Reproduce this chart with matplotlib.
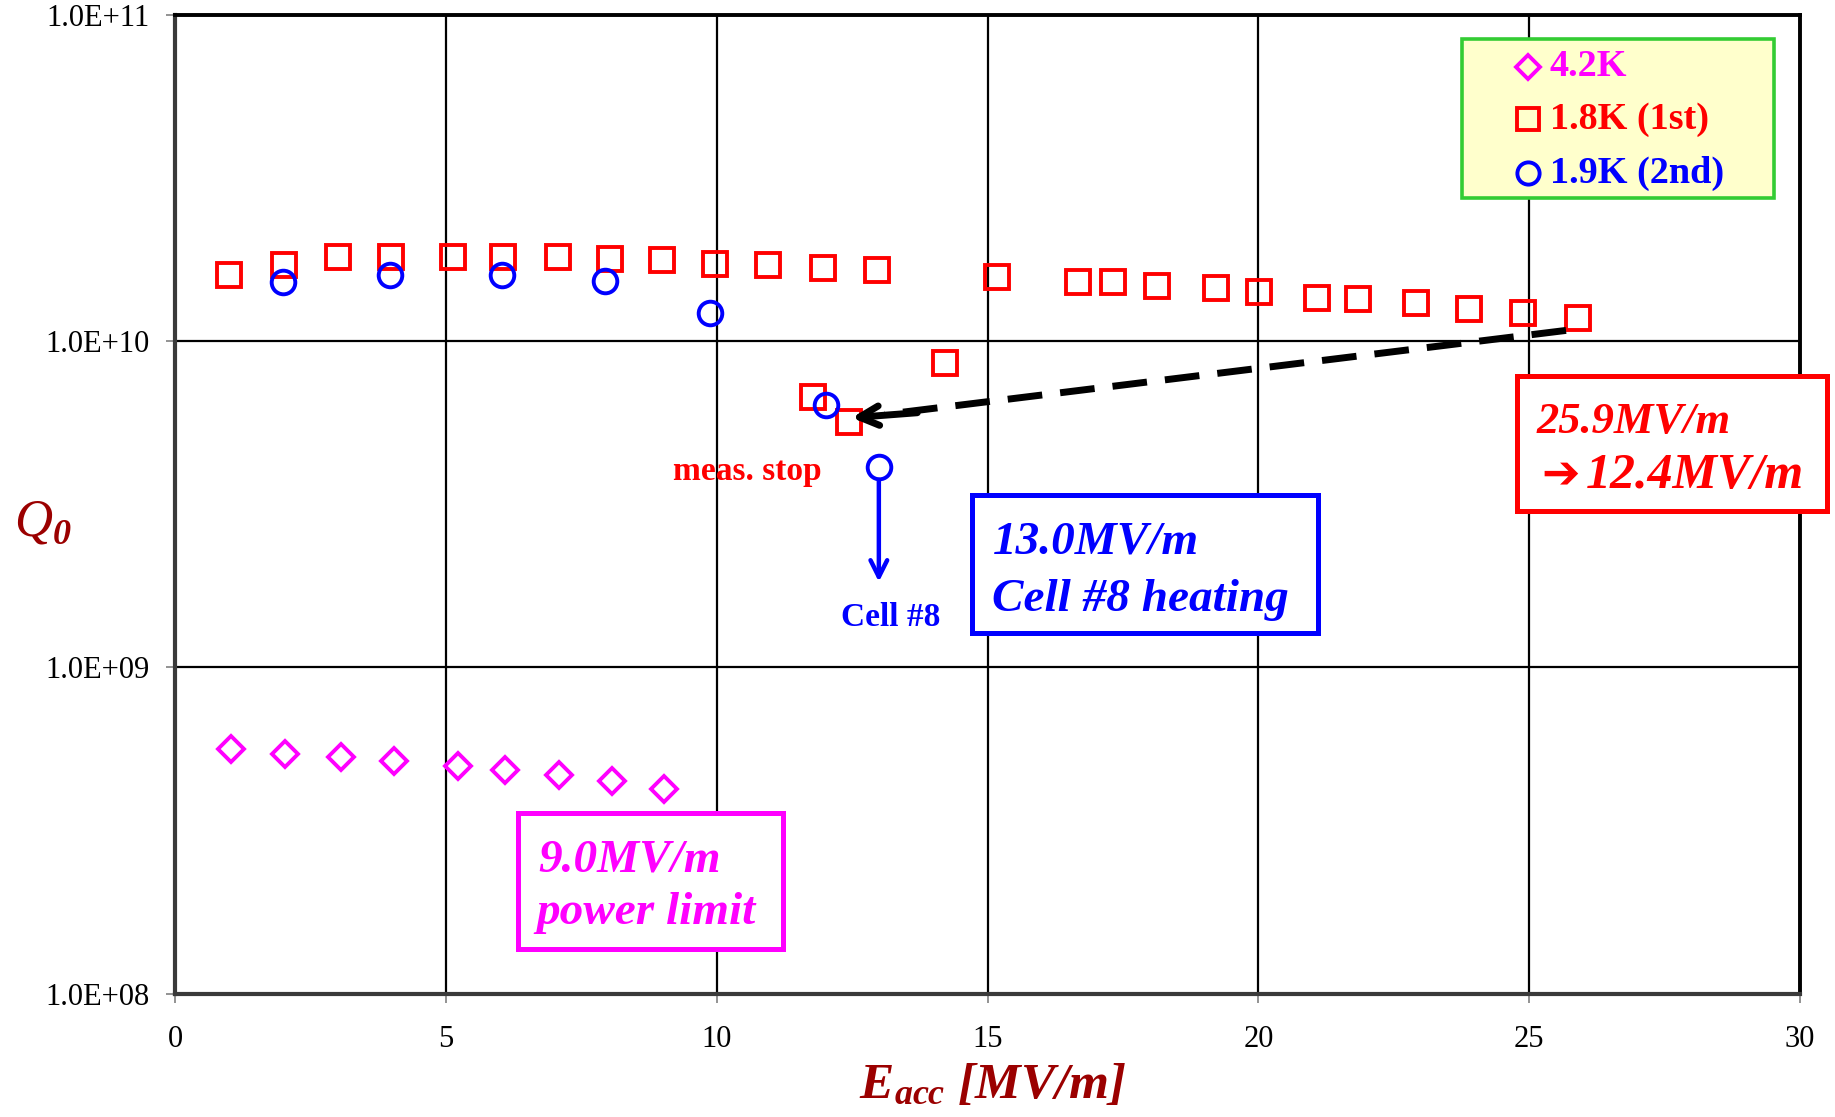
import matplotlib

matplotlib.use('Agg')
import matplotlib.pyplot as plt
from matplotlib.patches import Rectangle
from matplotlib.ticker import FuncFormatter, FixedLocator

plt.rcParams['font.family'] = ['Liberation Serif', 'DejaVu Serif']
plt.rcParams['mathtext.fontset'] = 'custom'
plt.rcParams['mathtext.rm'] = 'Liberation Serif'
plt.rcParams['mathtext.it'] = 'Liberation Serif:italic'
plt.rcParams['mathtext.bf'] = 'Liberation Serif:bold'
plt.rcParams['mathtext.bfit'] = 'Liberation Serif:italic:bold'

# 4.2K run
e_42k = [1.02, 2.03, 3.05, 4.04, 5.21, 6.09, 7.09, 8.06, 9.03]
q_42k = [5.62e8, 5.44e8, 5.31e8, 5.18e8, 4.97e8, 4.84e8, 4.69e8, 4.50e8, 4.25e8]

# 1.8K first run
e_18k = [0.99, 2.01, 3.00, 3.98, 5.12, 6.05, 7.07, 8.02, 8.99, 9.96, 10.94, 11.95, 12.95,
         14.22, 15.17, 16.66, 17.31, 18.13, 19.21, 20.01, 21.09, 21.83, 22.91, 23.88,
         24.88, 25.91, 11.78, 12.43]
q_18k = [1.60e10, 1.72e10, 1.81e10, 1.82e10, 1.82e10, 1.81e10, 1.81e10, 1.79e10, 1.78e10,
         1.73e10, 1.72e10, 1.68e10, 1.65e10, 8.6e9, 1.57e10, 1.52e10, 1.52e10, 1.48e10,
         1.46e10, 1.42e10, 1.36e10, 1.35e10, 1.31e10, 1.26e10, 1.22e10, 1.18e10,
         6.76e9, 5.64e9]

# 1.9K second run
e_19k = [1.99, 3.96, 6.03, 7.93, 9.88, 12.02, 12.99]
q_19k = [1.52e10, 1.60e10, 1.60e10, 1.53e10, 1.22e10, 6.38e9, 4.12e9]

x_ticks = [0, 5, 10, 15, 20, 25, 30]
y_ticks = [1e8, 1e9, 1e10, 1e11]

MAGENTA = '#FF00FF'
RED = '#FF0000'
BLUE = '#0000FF'
DARKRED = '#9B0000'

fig = plt.figure(figsize=(18.35, 11.17), dpi=100)
ax = fig.add_axes([0.0956, 0.1105, 0.8853, 0.8759])

ax.set_yscale('log')
ax.set_xlim(0, 30)
ax.set_ylim(1e8, 1e11)
ax.xaxis.set_major_locator(FixedLocator(x_ticks))
ax.yaxis.set_major_locator(FixedLocator(y_ticks))
ax.yaxis.set_minor_locator(FixedLocator([]))
ax.yaxis.set_major_formatter(FuncFormatter(lambda v, p: '{:.1E}'.format(v)))
ax.tick_params(axis='both', length=6.5, width=1.2, color='gray', labelsize=22)
ax.tick_params(axis='y', pad=12)
ax.tick_params(axis='x', pad=16)
ax.grid(True, color='black', linewidth=1.6, zorder=0)
ax.set_axisbelow(True)
for side in ['top', 'right']:
    ax.spines[side].set_linewidth(2.8)
    ax.spines[side].set_color('black')
for side in ['left', 'bottom']:
    ax.spines[side].set_linewidth(3.0)
    ax.spines[side].set_color('#3a3a3a')

mk = dict(linestyle='none', markerfacecolor='none', markeredgewidth=2.8)
ax.plot(e_42k, q_42k, marker='D', markersize=13.5, color=MAGENTA, zorder=3, **mk)
ax.plot(e_18k, q_18k, marker='s', markersize=17, color=RED, zorder=3, **mk)
ax.plot(e_19k, q_19k, marker='o', markersize=17, color=BLUE, zorder=4, **mk)

# axis labels
ax.set_xlabel(r'$\mathbfit{E}_{\mathbfit{acc}}\ \mathbfit{[MV/m]}$', fontsize=37, color=DARKRED)
ax.xaxis.set_label_coords(0.5029, -0.0945)
ax.xaxis.label.set_va('center')
ax.text(-0.0994, 0.4677, 'Q', transform=ax.transAxes, fontsize=38, fontstyle='italic',
        color=DARKRED, ha='left', va='baseline')
ax.text(-0.0755, 0.4600, '0', transform=ax.transAxes, fontsize=26, fontstyle='italic',
        fontweight='bold', color=DARKRED, ha='left', va='baseline')

# legend drawn by hand (box, markers, labels)
ax.add_patch(Rectangle((0.7918, 0.8134), 0.1923, 0.1627, transform=ax.transAxes,
                       facecolor='#FFFFCC', edgecolor='#33CC33', linewidth=2.6, zorder=5))
leg_rows = [0.9474, 0.8935, 0.8385]
leg_items = [('D', 12.5, MAGENTA, '4.2K'), ('s', 16, RED, '1.8K (1st)'), ('o', 16, BLUE, '1.9K (2nd)')]
for yy, (m, ms, c, lab) in zip(leg_rows, leg_items):
    ax.plot([0.8326], [yy], marker=m, markersize=ms, color=c, transform=ax.transAxes,
            zorder=6, clip_on=False, **mk)
    ax.text(0.8461, yy, lab, transform=ax.transAxes, fontsize=27.5, fontweight='bold',
            color=c, va='center', ha='left', zorder=6)

# annotation boxes: (corner, width, height, colour, [(x, y, text, fontsize)])
boxes = [
    ((0.4906, 0.3684), 0.2126, 0.1412, BLUE,
     [(0.5029, 0.4498, '13.0MV/m', 34), (0.5029, 0.3911, 'Cell #8 heating', 34)]),
    ((0.8256, 0.4928), 0.1910, 0.1388, RED,
     [(0.8379, 0.5730, '25.9MV/m', 32), (0.8685, 0.5167, '12.4MV/m', 36)]),
    ((0.2111, 0.0455), 0.1628, 0.1387, MAGENTA,
     [(0.2233, 0.1244, '9.0MV/m', 34), (0.2219, 0.0706, 'power limit', 34)]),
]
for (x0, y0), w, h, c, lines in boxes:
    ax.add_patch(Rectangle((x0, y0), w, h, transform=ax.transAxes, facecolor='white',
                           edgecolor=c, linewidth=3.6, zorder=5, clip_on=False))
    for tx, ty, s, fs in lines:
        ax.text(tx, ty, s, transform=ax.transAxes, fontsize=fs, fontweight='bold',
                fontstyle='italic', color=c, ha='left', va='baseline', zorder=6)
# thick arrow glyph in front of 12.4MV/m
ax.text(0.8410, 0.5300, '\u2794', transform=ax.transAxes, fontsize=33,
        family=['DejaVu Sans'], color=RED, ha='left', va='center', zorder=6)

ax.text(0.3062, 0.5251, 'meas. stop', transform=ax.transAxes, fontsize=24,
        fontweight='bold', color=RED, ha='left', va='baseline', zorder=6)
ax.text(0.4099, 0.3756, 'Cell #8', transform=ax.transAxes, fontsize=24,
        fontweight='bold', color=BLUE, ha='left', va='baseline', zorder=6)

# arrows
ax.plot([25.68, 13.1], [1.08e10, 5.97e9], color='black', linewidth=5,
        linestyle=(0, (5, 2.6)), zorder=4, solid_capstyle='butt')
ax.annotate('', xy=(12.49, 5.83e9), xytext=(13.7, 6.04e9),
            arrowprops=dict(arrowstyle='->,head_length=1.4,head_width=0.7',
                            color='black', lw=5, shrinkA=0, shrinkB=0), zorder=4)
ax.annotate('', xy=(12.99, 1.83e9), xytext=(12.99, 3.76e9),
            arrowprops=dict(arrowstyle='->,head_length=1.2,head_width=0.6',
                            color=BLUE, lw=3.2, shrinkA=0, shrinkB=0), zorder=4)

fig.savefig('out.png', dpi=100)
